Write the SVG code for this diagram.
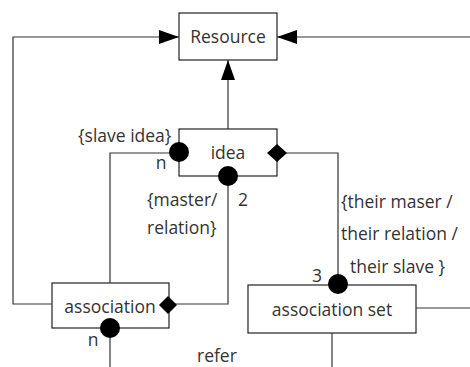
<svg xmlns="http://www.w3.org/2000/svg" width="470" height="367" viewBox="0 0 470 367">
  <style>
    .box { fill: #ffffff; stroke: #222222; stroke-width: 1.2; }
    .wire { fill: none; stroke: #333333; stroke-width: 1.2; }
    .dot { fill: #000000; }
    .dia { fill: #000000; }
    text { font-family: "Open Sans", "Noto Sans", "DejaVu Sans", sans-serif; font-size: 17.5px; fill: #333333; }
    .c { text-anchor: middle; }
  </style>
  <defs>
    <marker id="tri" viewBox="0 0 20 14" refX="20" refY="7" markerWidth="20" markerHeight="14" markerUnits="userSpaceOnUse" orient="auto">
      <path d="M0,0 L20,7 L0,14 Z" fill="#000000"/>
    </marker>
  </defs>

  <g id="resource">
    <rect class="box" x="179" y="13" width="98" height="47"/>
    <text class="c" x="228" y="43">Resource</text>
  </g>

  <g id="idea">
    <rect class="box" x="179" y="129" width="98" height="47"/>
    <text class="c" x="228" y="159">idea</text>
  </g>

  <g id="association">
    <rect class="box" x="52" y="283" width="117" height="45"/>
    <text class="c" x="110" y="313">association</text>
  </g>

  <g id="association-set">
    <rect class="box" x="248" y="285" width="168" height="48"/>
    <text class="c" x="332" y="316">association set</text>
  </g>

  <g id="connectors">
    <!-- outer left loop: association -> Resource -->
    <polyline class="wire" points="52,304 13,304 13,37 179,37" marker-end="url(#tri)"/>
    <!-- outer right: association set -> Resource -->
    <polyline class="wire" points="470,37 277,37" marker-end="url(#tri)"/>
    <!-- idea -> Resource -->
    <polyline class="wire" points="228,129 228,60" marker-end="url(#tri)"/>
    <!-- slave idea -->
    <polyline class="wire" points="179,153 110,153 110,283"/>
    <!-- master / relation -->
    <polyline class="wire" points="228,176 228,304 169,304"/>
    <!-- their master / relation / slave -->
    <polyline class="wire" points="277,153 338,153 338,285"/>
    <!-- association set right -->
    <polyline class="wire" points="416,308 470,308"/>
    <!-- association set down -->
    <polyline class="wire" points="332,333 332,367"/>
    <!-- association refer down -->
    <polyline class="wire" points="110,328 110,367"/>
    <!-- end symbols -->
    <circle class="dot" cx="179" cy="152" r="10"/>
    <circle class="dot" cx="228" cy="176" r="10"/>
    <circle class="dot" cx="338" cy="284" r="10"/>
    <circle class="dot" cx="110" cy="328" r="10"/>
    <path class="dia" d="M267,153 L277,144 L287,153 L277,162 Z"/>
    <path class="dia" d="M159,305 L168,296 L177,305 L168,314 Z"/>
  </g>

  <g id="labels">
    <text x="78" y="142">{slave idea}</text>
    <text class="c" x="161" y="169">n</text>
    <text x="147" y="206">{master/</text>
    <text class="c" x="243" y="206">2</text>
    <text x="147" y="234">relation}</text>
    <text x="341" y="208">{their maser /</text>
    <text x="341" y="240">their relation /</text>
    <text x="350" y="273">their slave }</text>
    <text class="c" x="317" y="282">3</text>
    <text class="c" x="93" y="346">n</text>
    <text x="197" y="362">refer</text>
  </g>
</svg>
